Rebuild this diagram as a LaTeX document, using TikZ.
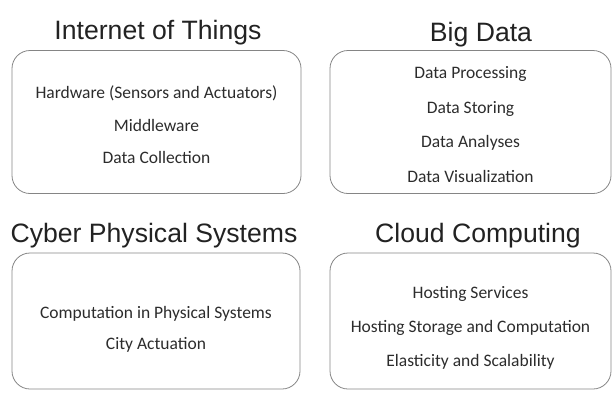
\documentclass[tikz,border=0pt]{standalone}
\usepackage{fontspec}
\setmainfont{Carlito}
\newfontfamily\headfont{Liberation Sans}
\definecolor{boxline}{HTML}{858585}
\definecolor{bodytext}{HTML}{2c2c2c}
\definecolor{headtext}{HTML}{222222}
\begin{document}
\begin{tikzpicture}[x=1pt,y=-1pt,
    panel/.style={draw=boxline, line width=.8pt, rounded corners=18pt, inner sep=0pt},
    items/.style={align=center, text=bodytext, inner sep=0pt},
    heading/.style={anchor=base, text=headtext, font=\headfont\fontsize{26.6}{30}\selectfont, inner sep=0pt}]
    \useasboundingbox (0,0) rectangle (613,392);
    % the four boxes
    \node[panel, minimum width=289, minimum height=143] (iot) at (156.5,122) {};
    \node[panel, minimum width=281, minimum height=143] (bigdata) at (470.5,122) {};
    \node[panel, minimum width=288, minimum height=136] (cps) at (156,321) {};
    \node[panel, minimum width=281, minimum height=136] (cloud) at (470.5,321) {};
    % their contents
    \node[items, font=\fontsize{17.5}{32.5}\selectfont] (iotitems) at ([yshift=-3pt]iot.center)
        {Hardware (Sensors and Actuators)\\Middleware\\Data Collection};
    \node[items, font=\fontsize{17.5}{34.5}\selectfont] (bigdataitems) at ([yshift=-2.5pt]bigdata.center)
        {Data Processing\\Data Storing\\Data Analyses\\Data Visualization};
    \node[items, font=\fontsize{17.5}{31}\selectfont] (cpsitems) at ([yshift=-8pt]cps.center)
        {Computation in Physical Systems\\City Actuation};
    \node[items, font=\fontsize{17.5}{34}\selectfont] (clouditems) at ([yshift=-7pt]cloud.center)
        {Hosting Services\\Hosting Storage and Computation\\Elasticity and Scalability};
    % headings
    \node[heading] (iottitle) at (158,39) {Internet of Things};
    \node[heading] (bigdatatitle) at (481,41.5) {Big Data};
    \node[heading] (cpstitle) at (154,242) {Cyber Physical Systems};
    \node[heading] (cloudtitle) at (478,242) {Cloud Computing};
\end{tikzpicture}
\end{document}
